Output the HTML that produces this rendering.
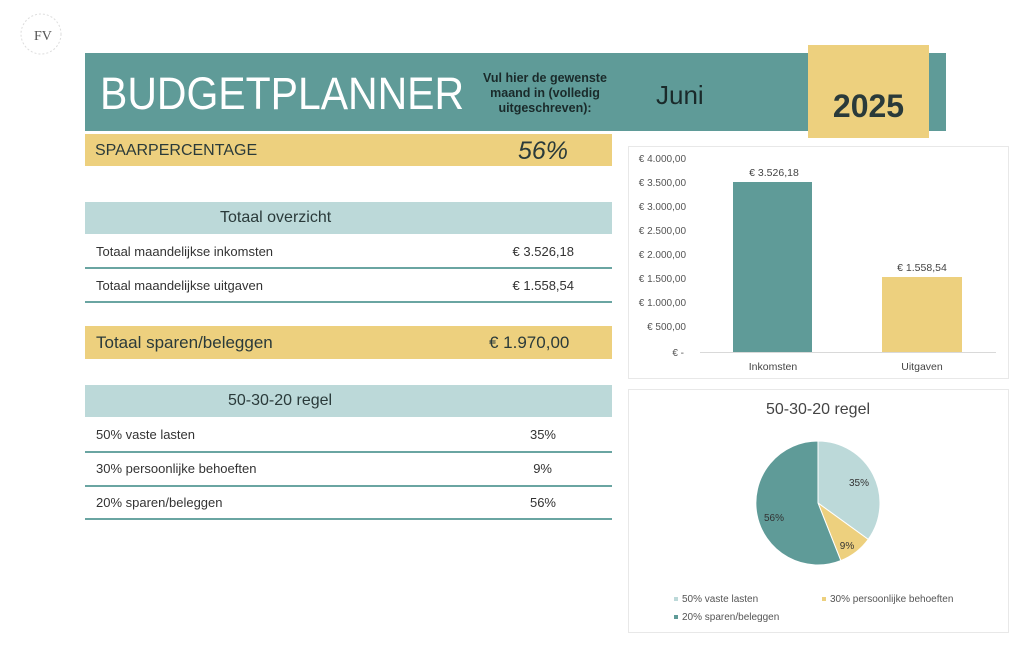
<!DOCTYPE html>
<html><head><meta charset="utf-8"><style>
body{margin:0;width:1024px;height:647px;background:#fff;position:relative;overflow:hidden;font-family:"Liberation Sans",sans-serif;color:#2a3a3a}
.a{position:absolute}
.line{position:absolute;left:85px;width:527px;height:2px;background:#6aa5a2}
.row{position:absolute;left:96px;font-size:13px;color:#333}
.val{position:absolute;font-size:13px;color:#333;text-align:right}
</style></head><body>
<svg class="a" style="left:15px;top:8px" width="52" height="52"><circle cx="26" cy="26" r="20" fill="none" stroke="#ddd" stroke-dasharray="2 2"/><text x="19" y="32" font-size="14" font-family="Liberation Serif" fill="#555">FV</text></svg>
<div class="a" style="left:85px;top:53px;width:861px;height:78px;background:#5f9b98"></div>
<div class="a" style="left:100px;top:68px;font-size:45px;color:#fff;transform:scaleX(0.91);transform-origin:0 0;white-space:nowrap">BUDGETPLANNER</div>
<div class="a" style="left:476px;top:71px;width:138px;text-align:center;font-size:12.5px;line-height:15px;font-weight:bold;color:#1a2a2a">Vul hier de gewenste maand in (volledig uitgeschreven):</div>
<div class="a" style="left:656px;top:80px;font-size:26px;color:#1a2a2a">Juni</div>
<div class="a" style="left:808px;top:45px;width:121px;height:93px;background:#edd07e"></div>
<div class="a" style="left:808px;top:88px;width:121px;text-align:center;font-size:32px;font-weight:bold;color:#2a3a3a">2025</div>
<div class="a" style="left:85px;top:134px;width:527px;height:32px;background:#edd07e"></div>
<div class="a" style="left:95px;top:142px;font-size:16px;color:#2a3a3a">SPAARPERCENTAGE</div>
<div class="a" style="left:518px;top:137px;font-size:25px;font-style:italic;color:#2a3a3a">56%</div>

<div class="a" style="left:85px;top:202px;width:527px;height:32px;background:#bcd9d9"></div>
<div class="a" style="left:220px;top:209px;font-size:16px">Totaal overzicht</div>
<div class="row" style="top:244px">Totaal maandelijkse inkomsten</div><div class="val" style="left:470px;width:104px;top:244px">€ 3.526,18</div>
<div class="line" style="top:267px"></div>
<div class="row" style="top:278px">Totaal maandelijkse uitgaven</div><div class="val" style="left:470px;width:104px;top:278px">€ 1.558,54</div>
<div class="line" style="top:301px"></div>
<div class="a" style="left:85px;top:326px;width:527px;height:33px;background:#edd07e"></div>
<div class="a" style="left:96px;top:333px;font-size:17px">Totaal sparen/beleggen</div>
<div class="a" style="left:489px;top:333px;font-size:17px">€ 1.970,00</div>

<div class="a" style="left:85px;top:385px;width:527px;height:32px;background:#bcd9d9"></div>
<div class="a" style="left:228px;top:392px;font-size:16px">50-30-20 regel</div>
<div class="row" style="top:427px">50% vaste lasten</div><div class="val" style="left:500px;width:56px;top:427px">35%</div>
<div class="line" style="top:451px"></div>
<div class="row" style="top:461px">30% persoonlijke behoeften</div><div class="val" style="left:500px;width:52px;top:461px">9%</div>
<div class="line" style="top:485px"></div>
<div class="row" style="top:495px">20% sparen/beleggen</div><div class="val" style="left:500px;width:56px;top:495px">56%</div>
<div class="line" style="top:518px"></div>

<svg class="a" style="left:0;top:0" width="1024" height="647" font-family="Liberation Sans">
<rect x="628.5" y="146.5" width="380" height="232" fill="#fff" stroke="#e8e8e8"/>
<g font-size="10" fill="#555" text-anchor="end">
<text x="686" y="162">€ 4.000,00</text><text x="686" y="186">€ 3.500,00</text><text x="686" y="210">€ 3.000,00</text><text x="686" y="234">€ 2.500,00</text><text x="686" y="258">€ 2.000,00</text><text x="686" y="282">€ 1.500,00</text><text x="686" y="306">€ 1.000,00</text><text x="686" y="330">€ 500,00</text><text x="684" y="356">€ -</text>
</g>
<rect x="733" y="182" width="79" height="170" fill="#5f9b98"/>
<rect x="882" y="277" width="80" height="75" fill="#edd07e"/>
<line x1="700" y1="352.5" x2="996" y2="352.5" stroke="#d9d9d9"/>
<g font-size="10.5" fill="#444" text-anchor="middle">
<text x="774" y="176">€ 3.526,18</text><text x="922" y="271">€ 1.558,54</text>
<text x="773" y="370">Inkomsten</text><text x="922" y="370">Uitgaven</text>
</g>
<rect x="628.5" y="389.5" width="380" height="243" fill="#fff" stroke="#e8e8e8"/>
<text x="818" y="414" font-size="16" fill="#444" text-anchor="middle">50-30-20 regel</text>
<path d="M818,503 L818,441 A62,62 0 0 1 868.2,539.4 Z" fill="#bcd9d9" stroke="#fff"/>
<path d="M818,503 L868.2,539.4 A62,62 0 0 1 840.8,560.6 Z" fill="#edd07e" stroke="#fff"/>
<path d="M818,503 L840.8,560.6 A62,62 0 1 1 818,441 Z" fill="#5f9b98" stroke="#fff"/>
<g font-size="10" fill="#333" text-anchor="middle"><text x="859" y="486">35%</text><text x="847" y="549">9%</text><text x="774" y="521">56%</text></g>
<g font-size="10" fill="#555">
<rect x="674" y="597" width="4" height="4" fill="#bcd9d9"/><text x="682" y="602">50% vaste lasten</text>
<rect x="822" y="597" width="4" height="4" fill="#edd07e"/><text x="830" y="602">30% persoonlijke behoeften</text>
<rect x="674" y="615" width="4" height="4" fill="#5f9b98"/><text x="682" y="620">20% sparen/beleggen</text>
</g>
</svg>
</body></html>
